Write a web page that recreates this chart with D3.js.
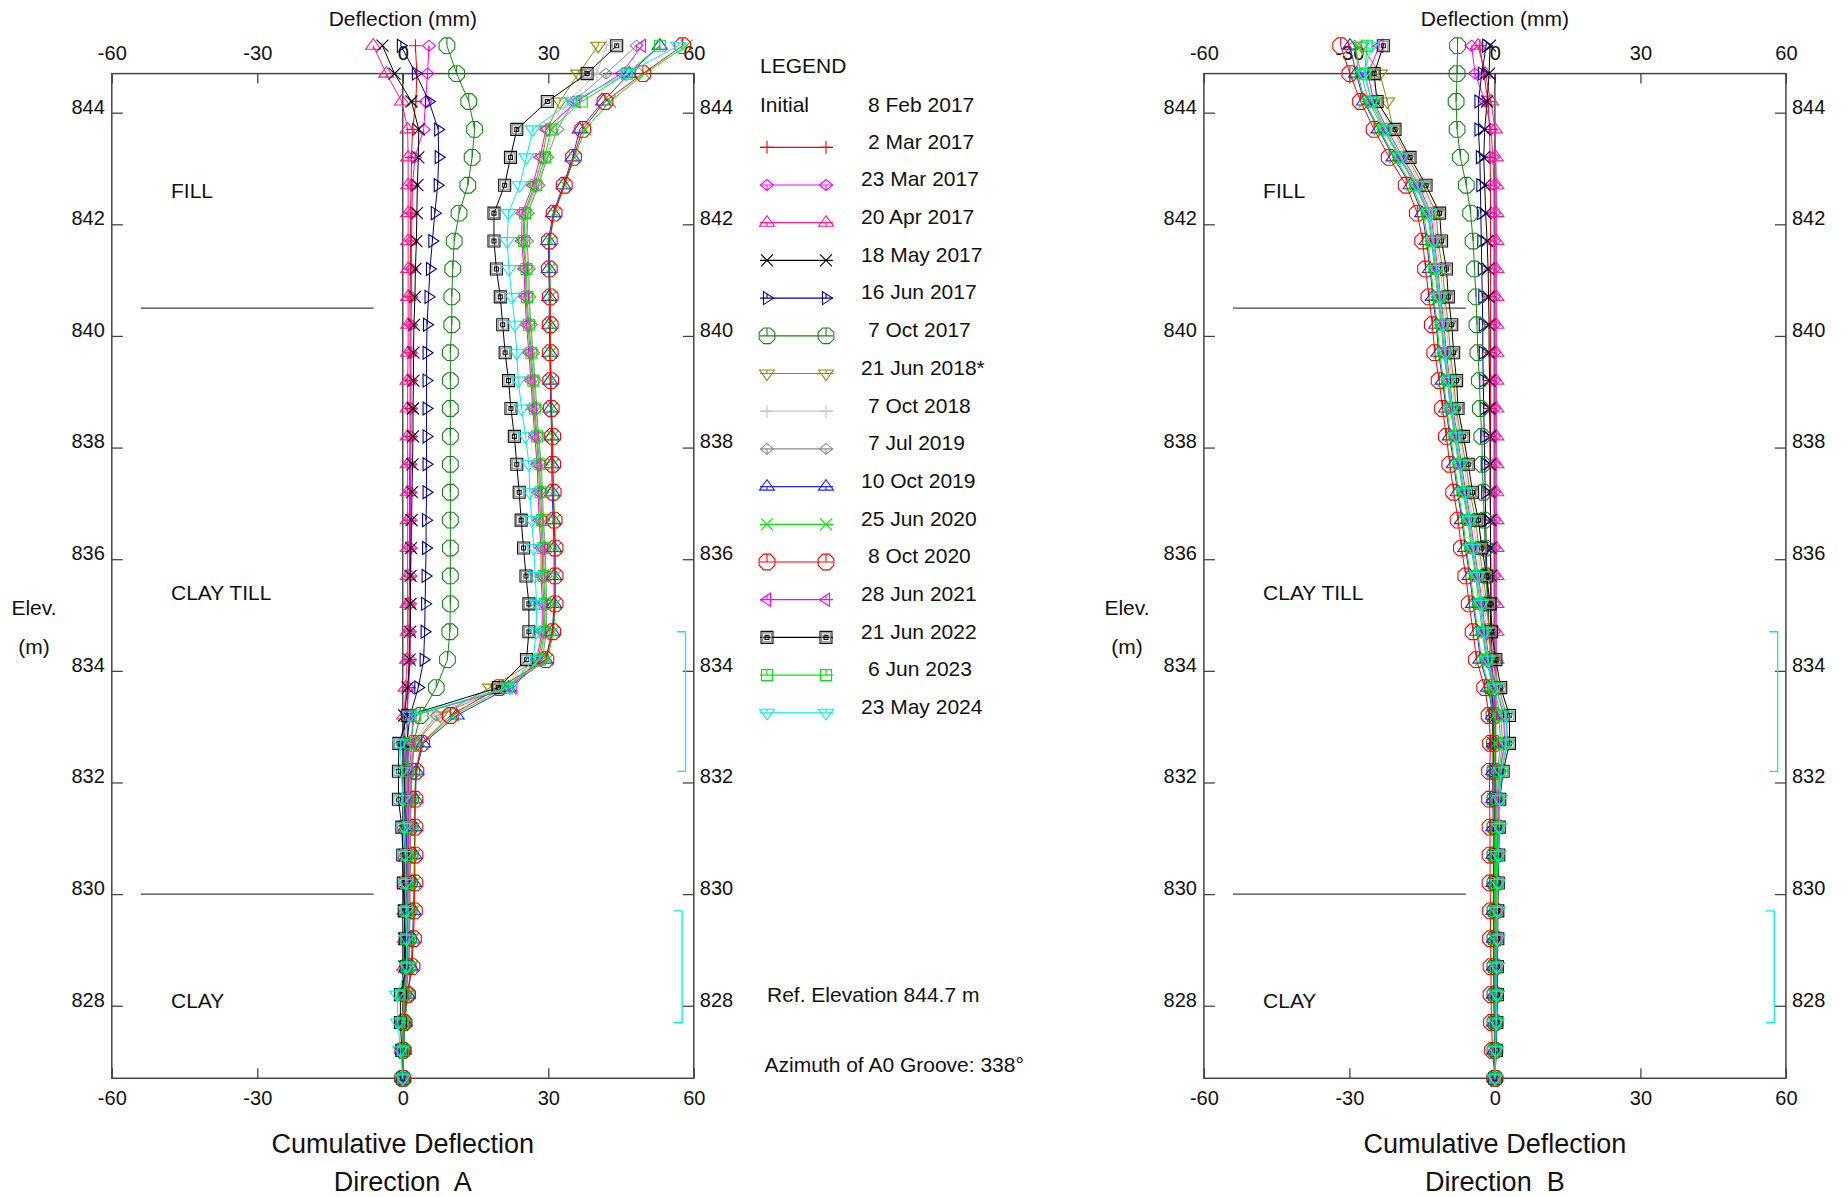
<!DOCTYPE html>
<html>
<head>
<meta charset="utf-8">
<script src="https://cdn.jsdelivr.net/npm/d3@7"></script>
<style>
  body { margin: 0; background: #fff; }
  svg { display: block; font-family: "Liberation Sans", Arial, sans-serif; }
</style>
</head>
<body>
<svg width="1847" height="1197"></svg>
<script>
// reading elevations (m), 0.5 m spacing, top one is above the ref elevation
const elevations = [845.2, 844.7, 844.2, 843.7, 843.2, 842.7, 842.2, 841.7, 841.2, 840.7,
  840.2, 839.7, 839.2, 838.7, 838.2, 837.7, 837.2, 836.7, 836.2, 835.7,
  835.2, 834.7, 834.2, 833.7, 833.2, 832.7, 832.2, 831.7, 831.2, 830.7,
  830.2, 829.7, 829.2, 828.7, 828.2, 827.7, 827.2, 826.7];

const dates = ["2 Mar 2017", "23 Mar 2017", "20 Apr 2017", "18 May 2017", "16 Jun 2017",
  "7 Oct 2017", "21 Jun 2018*", "7 Oct 2018", "7 Jul 2019", "10 Oct 2019", "25 Jun 2020",
  "8 Oct 2020", "28 Jun 2021", "21 Jun 2022", "6 Jun 2023", "23 May 2024"];

const colours = ["#ff0000", "#ff00ff", "#ff1a8c", "#000000", "#000088", "#118811",
  "#8c8c00", "#c4c4c4", "#8a8a8a", "#2424ff", "#00ea00", "#ff0000", "#ff00ff",
  "#000000", "#00ea00", "#00eeee"];

const symbols = ["plus", "diamond", "triUp", "cross", "triRight", "octagon", "triDown",
  "plus", "diamond", "triUp", "cross", "octagon", "triLeft", "dsquare", "square", "triDown"];

// Direction A cumulative deflection (mm)
const a02Mar17 = [2.6, 2.9, 2.7, 2.0, 1.8, 1.7, 1.6, 1.6, 1.6, 1.5, 1.5, 1.5, 1.5, 1.5, 1.5, 1.4, 1.4, 1.4, 1.4, 1.4, 1.3, 1.3, 1.3, 1.1, 0.8, 1.0, 1.2, 1.2, 1.1, 1.0, 1.0, 0.9, 0.8, 0.7, 0.5, 0.3, 0.1, 0];
const a23Mar17 = [5.4, 5.1, 4.7, 4.3, 2.5, 2.0, 1.9, 1.8, 1.8, 1.8, 1.7, 1.7, 1.7, 1.7, 1.7, 1.6, 1.6, 1.6, 1.6, 1.6, 1.5, 1.5, 1.5, 1.2, 0.9, 1.1, 1.3, 1.2, 1.2, 1.1, 1.1, 1.0, 0.9, 0.8, 0.6, 0.3, 0.1, 0];
const a20Apr17 = [-6.1, -3.4, -0.2, 1.0, 1.1, 1.1, 1.1, 1.1, 1.1, 1.1, 1.1, 1.1, 1.0, 1.0, 1.0, 1.0, 1.0, 1.0, 1.0, 1.0, 1.0, 1.0, 0.9, 0.6, 0.3, 0.5, 0.6, 0.6, 0.5, 0.5, 0.5, 0.4, 0.4, 0.3, 0.2, 0.1, 0.0, 0];
const a18May17 = [-4.2, -1.7, 1.8, 3.3, 3.2, 3.0, 2.9, 2.8, 2.6, 2.5, 2.3, 2.2, 2.2, 2.1, 2.1, 2.0, 1.9, 1.8, 1.7, 1.6, 1.6, 1.5, 1.4, 1.0, 0.3, 0.2, 0.3, 0.4, 0.4, 0.4, 0.4, 0.4, 0.3, 0.3, 0.2, 0.1, 0.0, 0];
const a16Jun17 = [-0.4, 2.7, 5.4, 7.3, 7.4, 7.2, 6.6, 6.1, 5.6, 5.3, 5.0, 4.9, 4.9, 4.9, 4.9, 4.9, 4.9, 4.8, 4.8, 4.7, 4.6, 4.5, 4.3, 3.2, 1.5, 0.8, 0.9, 0.9, 0.8, 0.8, 0.8, 0.7, 0.7, 0.6, 0.4, 0.2, 0.1, 0];
const a07Oct17 = [9.1, 11.1, 13.6, 14.8, 14.3, 13.4, 11.6, 10.6, 10.3, 10.1, 10.1, 9.8, 9.8, 9.8, 9.8, 9.8, 9.8, 9.8, 9.8, 9.8, 9.8, 9.7, 9.2, 6.9, 3.6, 2.2, 1.8, 1.6, 1.5, 1.5, 1.4, 1.3, 1.2, 1.1, 0.7, 0.3, 0.1, 0];
const a21Jun18 = [40.3, 36.2, 32.4, 29.8, 28.8, 27.2, 25.0, 24.8, 25.3, 25.4, 25.8, 26.3, 26.7, 27.0, 27.5, 28.0, 28.2, 28.4, 28.8, 28.8, 29.1, 29.0, 27.9, 18.0, 7.7, 2.5, 1.8, 1.7, 1.6, 1.6, 1.5, 1.5, 1.4, 1.3, 0.5, 0.1, 0.0, 0];
const a07Oct18 = [42.0, 40.0, 34.0, 31.0, 29.6, 27.8, 25.6, 25.4, 25.8, 25.9, 26.3, 26.7, 27.1, 27.4, 27.9, 28.4, 28.6, 28.9, 29.2, 29.3, 29.5, 29.4, 28.5, 19.5, 6.0, 2.2, 1.5, 1.4, 1.4, 1.3, 1.3, 1.2, 1.2, 1.1, 0.4, 0.1, 0.0, 0];
const a07Jul19 = [48.2, 41.9, 35.2, 31.9, 29.8, 28.0, 25.8, 25.6, 26.0, 26.1, 26.4, 26.9, 27.3, 27.6, 28.0, 28.6, 28.8, 29.0, 29.4, 29.5, 29.7, 29.6, 28.8, 21.0, 7.0, 2.4, 1.6, 1.5, 1.5, 1.4, 1.4, 1.3, 1.3, 1.2, 0.5, 0.1, 0.0, 0];
const a10Oct19 = [53.0, 46.7, 41.3, 36.5, 35.0, 33.1, 31.0, 30.0, 30.1, 30.2, 30.2, 30.3, 30.4, 30.5, 30.7, 30.7, 30.8, 31.0, 31.2, 31.2, 31.2, 30.8, 29.4, 21.8, 11.1, 4.2, 2.8, 2.6, 2.4, 2.4, 2.3, 2.2, 2.0, 1.7, 1.0, 0.4, 0.2, 0];
const a25Jun20 = [58.5, 49.9, 42.7, 37.6, 35.4, 33.4, 31.3, 30.3, 30.3, 30.5, 30.5, 30.5, 30.6, 30.7, 30.9, 31.0, 31.1, 31.3, 31.5, 31.5, 31.5, 31.1, 29.8, 21.0, 10.4, 4.0, 2.6, 2.5, 2.5, 2.4, 2.4, 2.3, 2.1, 1.8, 1.1, 0.3, 0.2, 0];
const a08Oct20 = [57.7, 49.5, 41.7, 37.1, 35.2, 33.3, 31.2, 30.2, 30.2, 30.4, 30.4, 30.4, 30.5, 30.6, 30.9, 30.9, 31.0, 31.2, 31.4, 31.4, 31.4, 30.9, 29.5, 19.9, 9.8, 3.9, 2.7, 2.5, 2.5, 2.5, 2.5, 2.4, 2.2, 1.9, 1.0, 0.1, 0.0, 0];
const a28Jun21 = [49.3, 45.1, 35.8, 29.5, 28.3, 26.8, 24.6, 24.5, 25.0, 25.2, 25.5, 26.0, 26.4, 26.8, 27.2, 27.7, 27.9, 28.1, 28.5, 28.5, 28.8, 28.7, 27.6, 22.8, 2.0, 1.9, 1.3, 1.2, 1.2, 1.1, 1.1, 1.0, 1.0, 0.9, 0.3, 0.0, 0.0, 0];
const a21Jun22 = [44.1, 38.0, 29.8, 23.5, 22.2, 21.0, 18.8, 18.8, 19.3, 20.1, 20.6, 21.1, 21.8, 22.3, 23.0, 23.5, 24.0, 24.4, 24.9, 25.4, 26.0, 26.0, 25.5, 19.7, 1.0, -0.8, -0.9, -0.9, -0.2, 0.0, 0.1, 0.3, 0.5, 0.7, -0.5, -0.5, -0.2, 0];
const a06Jun23 = [53.0, 46.2, 36.9, 30.5, 29.3, 27.5, 25.2, 25.0, 25.5, 25.6, 26.0, 26.5, 26.9, 27.2, 27.7, 28.2, 28.4, 28.7, 29.0, 29.1, 29.3, 29.2, 28.3, 21.5, 2.5, 1.5, 1.0, 1.0, 1.0, 0.9, 0.9, 0.9, 0.8, 0.8, 0.2, 0.0, 0.0, 0];
const a23May24 = [56.8, 46.2, 34.8, 26.8, 25.5, 24.1, 21.8, 21.5, 21.9, 22.5, 23.1, 23.5, 23.8, 24.5, 25.3, 26.0, 26.2, 26.6, 27.0, 27.3, 27.6, 27.5, 26.9, 22.1, 1.5, -0.5, -0.3, 0.0, 0.3, 0.5, 0.6, 0.7, 0.8, 0.8, -1.2, -1.0, -0.5, 0];

// Direction B cumulative deflection (mm)
const b02Mar17 = [-3.1, -2.3, -1.4, -1.1, -1.0, -0.9, -0.9, -0.9, -0.9, -0.9, -0.9, -0.9, -0.9, -0.9, -0.9, -0.9, -0.9, -0.9, -0.9, -0.9, -0.9, -0.9, -0.8, -0.7, -0.5, -0.4, -0.4, -0.4, -0.3, -0.3, -0.3, -0.3, -0.2, -0.2, -0.2, -0.1, -0.1, 0];
const b23Mar17 = [-4.8, -4.1, -2.0, -0.8, -0.4, -0.2, -0.2, -0.2, -0.2, -0.2, -0.2, -0.2, -0.2, -0.2, -0.2, -0.2, -0.2, -0.2, -0.2, -0.2, -0.2, -0.2, -0.2, -0.1, 0.0, 0.1, 0.1, 0.1, 0.1, 0.1, 0.1, 0.1, 0.1, 0.0, 0.0, 0.0, 0.0, 0];
const b20Apr17 = [-3.5, -2.0, -0.8, 0.0, 0.2, 0.3, 0.3, 0.3, 0.3, 0.3, 0.3, 0.3, 0.3, 0.3, 0.3, 0.3, 0.3, 0.3, 0.3, 0.3, 0.3, 0.3, 0.3, 0.2, 0.2, 0.2, 0.2, 0.2, 0.2, 0.1, 0.1, 0.1, 0.1, 0.1, 0.1, 0.0, 0.0, 0];
const b18May17 = [-1.0, -1.2, -1.6, -2.1, -2.3, -2.1, -1.9, -1.6, -1.4, -1.3, -1.2, -1.2, -1.1, -1.1, -1.0, -1.0, -1.0, -0.9, -0.9, -0.8, -0.8, -0.7, -0.6, -0.5, -0.4, -0.3, -0.3, -0.3, -0.2, -0.2, -0.2, -0.2, -0.2, -0.1, -0.1, -0.1, 0.0, 0];
const b16Jun17 = [-1.8, -2.7, -3.4, -3.4, -3.1, -3.0, -2.9, -2.8, -2.7, -2.6, -2.5, -2.5, -2.4, -2.3, -2.2, -2.1, -2.0, -1.9, -1.8, -1.6, -1.4, -1.2, -1.0, -0.6, -0.4, -0.3, -0.3, -0.3, -0.2, -0.2, -0.2, -0.2, -0.1, -0.1, -0.1, -0.1, 0.0, 0];
const b07Oct17 = [-7.7, -7.8, -8.0, -7.8, -7.1, -5.9, -5.0, -4.5, -4.2, -3.9, -3.7, -3.5, -3.2, -3.0, -2.7, -2.6, -2.4, -2.2, -2.0, -1.8, -1.5, -1.2, -0.9, -0.5, -0.2, -0.1, 0.0, 0.0, 0.0, 0.0, 0.0, 0.0, 0.0, 0.0, 0.0, 0.0, 0.0, 0];
const b21Jun18 = [-27.5, -23.7, -22.2, -21.0, -18.0, -14.8, -12.1, -11.7, -10.8, -10.3, -9.6, -9.2, -8.5, -8.0, -7.0, -6.0, -5.1, -4.0, -3.3, -2.4, -1.7, -1.2, -0.3, 0.8, 2.4, 2.6, 1.4, 0.9, 0.8, 0.6, 0.6, 0.5, 0.5, 0.4, 0.4, 0.3, 0.2, 0];
const b07Oct18 = [-28.0, -25.5, -23.8, -21.5, -18.5, -15.2, -12.6, -12.1, -11.2, -10.7, -10.0, -9.5, -8.8, -8.3, -7.3, -6.4, -5.5, -4.5, -3.7, -2.8, -2.1, -1.6, -0.7, 0.5, 2.0, 2.2, 1.1, 0.8, 0.6, 0.4, 0.4, 0.3, 0.3, 0.3, 0.2, 0.2, 0.1, 0];
const b07Jul19 = [-28.9, -27.6, -26.0, -23.0, -19.8, -16.4, -13.9, -13.1, -12.4, -11.8, -11.1, -10.6, -9.8, -9.2, -8.3, -7.5, -6.6, -5.6, -4.9, -4.0, -3.3, -2.6, -1.8, -0.4, 0.8, 1.2, 0.5, 0.3, 0.2, 0.1, 0.1, 0.1, 0.0, 0.0, 0.0, 0.0, 0.0, 0];
const b10Oct19 = [-29.9, -28.6, -27.0, -24.0, -20.9, -17.4, -15.0, -14.1, -13.4, -12.8, -12.1, -11.6, -10.8, -10.1, -9.3, -8.5, -7.7, -6.8, -6.1, -5.2, -4.5, -3.7, -3.0, -1.4, -0.4, -0.2, -0.4, -0.4, -0.3, -0.3, -0.3, -0.3, -0.2, -0.2, -0.2, -0.1, -0.1, 0];
const b25Jun20 = [-28.5, -28.3, -26.8, -23.8, -20.6, -17.1, -14.7, -13.8, -13.2, -12.6, -11.9, -11.4, -10.6, -9.9, -9.1, -8.3, -7.5, -6.6, -5.9, -5.0, -4.3, -3.5, -2.8, -1.2, -0.2, 0.0, -0.2, -0.3, -0.2, -0.1, -0.1, -0.1, -0.1, 0.0, 0.0, 0.0, 0.0, 0];
const b08Oct20 = [-31.8, -29.9, -27.7, -24.9, -21.8, -18.3, -16.0, -14.9, -14.3, -13.6, -12.9, -12.4, -11.5, -10.8, -10.0, -9.3, -8.5, -7.6, -6.9, -6.0, -5.3, -4.5, -3.8, -2.1, -1.2, -0.9, -1.1, -1.1, -1.0, -1.0, -1.0, -0.9, -0.9, -0.8, -0.8, -0.7, -0.5, 0];
const b28Jun21 = [-23.8, -26.2, -25.0, -22.2, -19.0, -15.7, -13.2, -12.5, -11.8, -11.2, -10.5, -10.0, -9.3, -8.7, -7.7, -6.9, -6.0, -5.0, -4.3, -3.4, -2.6, -2.0, -1.2, 0.2, 1.8, 2.0, 1.0, 0.7, 0.6, 0.5, 0.5, 0.4, 0.4, 0.3, 0.3, 0.2, 0.1, 0];
const b21Jun22 = [-23.0, -24.9, -24.3, -20.6, -17.5, -14.2, -11.4, -11.0, -10.0, -9.6, -8.9, -8.5, -7.9, -7.6, -6.5, -5.5, -4.6, -3.4, -2.7, -1.7, -1.0, -0.7, 0.2, 1.2, 3.0, 3.0, 1.7, 1.0, 0.9, 0.8, 0.7, 0.6, 0.6, 0.5, 0.5, 0.4, 0.3, 0];
const b06Jun23 = [-26.4, -26.8, -25.5, -22.8, -19.6, -16.2, -13.7, -12.9, -12.2, -11.6, -10.9, -10.4, -9.6, -9.0, -8.1, -7.3, -6.4, -5.4, -4.7, -3.8, -3.0, -2.4, -1.6, -0.2, 1.2, 1.6, 0.8, 0.5, 0.4, 0.3, 0.3, 0.2, 0.2, 0.2, 0.1, 0.1, 0.1, 0];
const b23May24 = [-25.4, -27.0, -25.3, -22.5, -19.4, -16.0, -13.5, -12.7, -12.0, -11.4, -10.7, -10.2, -9.5, -8.9, -7.9, -7.1, -6.2, -5.2, -4.5, -3.6, -2.8, -2.2, -1.4, 0.0, 2.3, 2.4, 1.3, 1.0, 0.9, 0.7, 0.6, 0.5, 0.5, 0.4, 0.4, 0.3, 0.2, 0];

const seriesA = [a02Mar17, a23Mar17, a20Apr17, a18May17, a16Jun17, a07Oct17, a21Jun18, a07Oct18,
  a07Jul19, a10Oct19, a25Jun20, a08Oct20, a28Jun21, a21Jun22, a06Jun23, a23May24];
const seriesB = [b02Mar17, b23Mar17, b20Apr17, b18May17, b16Jun17, b07Oct17, b21Jun18, b07Oct18,
  b07Jul19, b10Oct19, b25Jun20, b08Oct20, b28Jun21, b21Jun22, b06Jun23, b23May24];

const xTicks = [-60, -30, 0, 30, 60];
const yTicks = [828, 830, 832, 834, 836, 838, 840, 842, 844];
const layerNames = ["FILL", "CLAY TILL", "CLAY"];
const layerElev = [842.6, 835.4, 828.1];
const layerBounds = [840.5, 830.0];
const bracketTop = [834.7, 829.7];
const bracketBottom = [832.2, 827.7];
const bracketAt = [58.3, 57.6];

const svg = d3.select("svg");
const FONT = "'Liberation Sans', Arial, sans-serif";

const y = d3.scaleLinear().domain([826.7, 844.7]).range([1078.3, 73.6]);

// marker shapes, centred on the point
const octPts = d3.range(8).map(k => {
  const a = (22.5 + 45 * k) * Math.PI / 180;
  return [8.5 * Math.cos(a), 8.5 * Math.sin(a)];
});
function shapeParts(sym, c) {
  switch (sym) {
    case "plus": return [["M-6.5,0H6.5M0,-6.5V6.5", c]];
    case "cross": return [["M-6,-6L6,6M-6,6L6,-6", c]];
    case "diamond": return [["M0,-5.5L6.5,0L0,5.5L-6.5,0Z M0,0V5.5", c]];
    case "triUp": return [["M-7.5,3.5L0,-7L7.5,3.5Z M0,0V3.5", c]];
    case "triDown": return [["M-7.5,-3.5L0,7L7.5,-3.5Z M0,0V-3.5", c]];
    case "triRight": return [["M-3.5,-6.5L6.5,0L-3.5,6.5Z M0,-4V0", c]];
    case "triLeft": return [["M3.5,-6.5L-6.5,0L3.5,6.5Z M0,-4V0", c]];
    case "octagon": return [["M" + octPts.map(p => p.join(",")).join("L") + "Z M0,0V-8", c]];
    case "square": return [["M-5.5,-5.5H5.5V5.5H-5.5Z M0,0V-5.5", c]];
    case "dsquare": return [
      ["M-6,-6H6V6H-6Z", "#111"],
      ["M-4.5,-4.5H4.5V4.5H-4.5Z", "#888"],
      ["M-2,-2H2V2H-2Z M0,-2V0", "#111"]];
  }
}
function drawMarker(g, sym, c) {
  shapeParts(sym, c).forEach(([d, s]) => {
    g.append("path").attr("d", d).attr("fill", "none")
      .attr("stroke", s).attr("stroke-width", 1.1);
  });
}

const panels = [
  {x0: 111.8, x1: 693.8, data: seriesA, name: "Direction  A", elevX: 34},
  {x0: 1203.9, x1: 1785.9, data: seriesB, name: "Direction  B", elevX: 1127}
];

panels.forEach(p => {
  const x = d3.scaleLinear().domain([-60, 60]).range([p.x0, p.x1]);
  const g = svg.append("g");

  const styleAxis = ax => {
    ax.select(".domain").remove();
    ax.selectAll(".tick line").attr("stroke", "#444").attr("stroke-width", 1.3);
    ax.selectAll("text").attr("font-family", FONT).attr("font-size", 20).attr("fill", "#111");
  };
  const fmt = d => String(d);

  g.append("g").attr("transform", `translate(0,${y(844.7)})`)
    .call(d3.axisTop(x).tickValues(xTicks).tickSize(-10).tickPadding(14).tickFormat(fmt))
    .call(styleAxis);
  g.append("g").attr("transform", `translate(0,${y(826.7)})`)
    .call(d3.axisBottom(x).tickValues(xTicks).tickSize(-10).tickPadding(13).tickFormat(fmt))
    .call(styleAxis);
  g.append("g").attr("transform", `translate(${p.x0},0)`)
    .call(d3.axisLeft(y).tickValues(yTicks).tickSize(-11).tickPadding(7).tickFormat(fmt))
    .call(styleAxis)
    .selectAll("text").attr("y", -6);
  g.append("g").attr("transform", `translate(${p.x1},0)`)
    .call(d3.axisRight(y).tickValues(yTicks).tickSize(-11).tickPadding(6).tickFormat(fmt))
    .call(styleAxis)
    .selectAll("text").attr("y", -6);

  // frame and zero line
  g.append("rect")
    .attr("x", p.x0).attr("y", y(844.7))
    .attr("width", p.x1 - p.x0).attr("height", y(826.7) - y(844.7))
    .attr("fill", "none").attr("stroke", "#444").attr("stroke-width", 1.5);
  g.append("line")
    .attr("x1", x(0)).attr("x2", x(0)).attr("y1", y(844.7)).attr("y2", y(826.7))
    .attr("stroke", "#333").attr("stroke-width", 1.3);

  // soil layers
  g.selectAll("line.layer").data(layerBounds).join("line")
    .attr("x1", x(-54)).attr("x2", x(-6))
    .attr("y1", d => y(d)).attr("y2", d => y(d))
    .attr("stroke", "#444").attr("stroke-width", 1.3);
  g.selectAll("text.layer").data(layerNames).join("text")
    .attr("x", x(-47.8)).attr("y", (d, i) => y(layerElev[i]))
    .attr("dy", "0.35em").attr("font-family", FONT).attr("font-size", 21)
    .attr("fill", "#111").text(d => d);

  // cyan brackets on the right
  bracketTop.forEach((t, i) => {
    const bx = x(bracketAt[i]);
    g.append("path")
      .attr("d", `M${bx - 8.5},${y(t)}H${bx}V${y(bracketBottom[i])}H${bx - 8.5}`)
      .attr("fill", "none").attr("stroke", "#00f0f0").attr("stroke-width", 1.3);
  });

  // series: line then markers
  p.data.forEach((vals, s) => {
    const pts = vals.map((v, i) => [x(v), y(elevations[i])]);
    g.append("path").attr("d", d3.line()(pts))
      .attr("fill", "none").attr("stroke", colours[s]).attr("stroke-width", 1);
    pts.forEach(pt => {
      const m = g.append("g").attr("transform", `translate(${pt[0]},${pt[1]})`);
      drawMarker(m, symbols[s], colours[s]);
    });
  });

  // titles
  g.append("text").attr("x", x(0)).attr("y", 19).attr("dy", "0.35em")
    .attr("text-anchor", "middle").attr("font-family", FONT).attr("font-size", 21)
    .attr("fill", "#111").text("Deflection (mm)");
  g.append("text").attr("x", x(0)).attr("y", 1144).attr("dy", "0.35em")
    .attr("text-anchor", "middle").attr("font-family", FONT).attr("font-size", 27)
    .attr("fill", "#111").text("Cumulative Deflection");
  g.append("text").attr("x", x(0)).attr("y", 1181.5).attr("dy", "0.35em")
    .attr("text-anchor", "middle").attr("font-family", FONT).attr("font-size", 27)
    .attr("fill", "#111").style("white-space", "pre").text(p.name);
  g.append("text").attr("x", p.elevX).attr("y", 608).attr("dy", "0.35em")
    .attr("text-anchor", "middle").attr("font-family", FONT).attr("font-size", 21)
    .attr("fill", "#111").text("Elev.");
  g.append("text").attr("x", p.elevX).attr("y", 647).attr("dy", "0.35em")
    .attr("text-anchor", "middle").attr("font-family", FONT).attr("font-size", 21)
    .attr("fill", "#111").text("(m)");
});

// legend
const lg = svg.append("g").attr("font-family", FONT).attr("font-size", 21).attr("fill", "#111");
lg.append("text").attr("x", 760).attr("y", 66).attr("dy", "0.35em").text("LEGEND");
lg.append("text").attr("x", 760).attr("y", 105).attr("dy", "0.35em").text("Initial");
lg.append("text").attr("x", 868).attr("y", 105).attr("dy", "0.35em").text("8 Feb 2017");
dates.forEach((d, k) => {
  const ly = 147.3 + k * 37.7;
  lg.append("line").attr("x1", 760).attr("x2", 833).attr("y1", ly).attr("y2", ly)
    .attr("stroke", colours[k]).attr("stroke-width", 1.2);
  [767, 826].forEach(mx => {
    const m = lg.append("g").attr("transform", `translate(${mx},${ly})`);
    drawMarker(m, symbols[k], colours[k]);
  });
  const single = d.indexOf(" ") === 1;
  lg.append("text").attr("x", single ? 868 : 861).attr("y", ly - 6)
    .attr("dy", "0.35em").text(d);
});
lg.append("text").attr("x", 767).attr("y", 995).attr("dy", "0.35em").text("Ref. Elevation 844.7 m");
lg.append("text").attr("x", 764.5).attr("y", 1065).attr("dy", "0.35em").text("Azimuth of A0 Groove: 338°");
</script>
</body>
</html>
